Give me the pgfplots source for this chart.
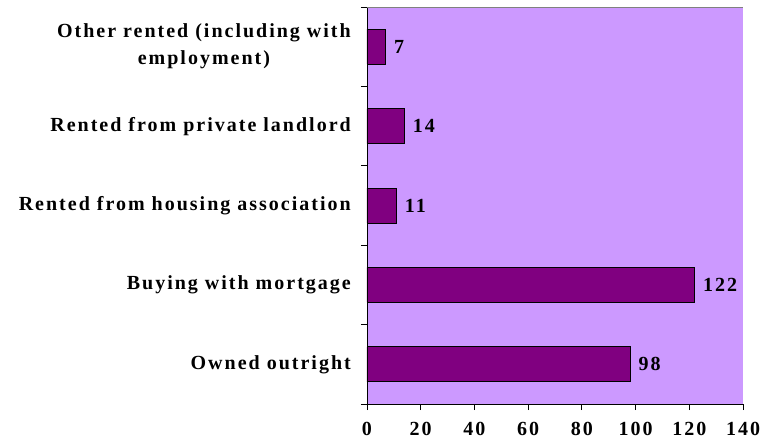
\documentclass[border=0pt]{standalone}
\usepackage{fontspec}
\setmainfont{Liberation Serif}[LetterSpace=10]
\usepackage{pgfplots}
\pgfplotsset{compat=1.18}
\definecolor{bg}{RGB}{204,153,255}
\definecolor{barc}{RGB}{128,0,128}
\begin{document}
\begin{tikzpicture}
\path[use as bounding box] (-367bp,-42bp) rectangle (393bp,404bp);
\begin{axis}[
  at={(0,0)}, anchor=south west,
  scale only axis, width=376bp, height=397bp,
  xbar, bar width=35bp,
  xmin=0, xmax=140, xtick={0,20,...,140},
  ymin=-0.5, ymax=4.5,
  ytick={-0.5,0.5,...,4.5}, yticklabels={},
  extra y ticks={0,1,2,3,4},
  extra y tick labels={Owned outright, Buying with mortgage, Rented from housing association, Rented from private landlord, {Other rented (including with\\employment)}},
  extra y tick style={major tick length=0pt, yticklabel style={align=center, inner sep=0pt, xshift=-16bp}},
  axis x line*=bottom, axis y line*=left,
  axis line style={black, line width=0.8pt, -},
  tick style={black, line width=0.8pt},
  tick align=outside, major tick length=6bp,
  axis background/.style={fill=bg},
  tick label style={font=\bfseries\fontsize{20bp}{27bp}\selectfont},
  /pgf/number format/assume math mode=true,
  xticklabel style={inner sep=0pt, yshift=-12bp},
  nodes near coords,
  every node near coord/.append style={anchor=west, inner sep=0pt, xshift=8bp, font=\bfseries\fontsize{20bp}{22bp}\selectfont, black},
]
\addplot[fill=barc, draw=black, line width=0.8pt] coordinates {(98,0) (122,1) (11,2) (14,3) (7,4)};
\draw[gray, line width=0.8pt] (rel axis cs:0,1) -- (rel axis cs:1,1) -- (rel axis cs:1,0);
\end{axis}
\end{tikzpicture}
\end{document}
